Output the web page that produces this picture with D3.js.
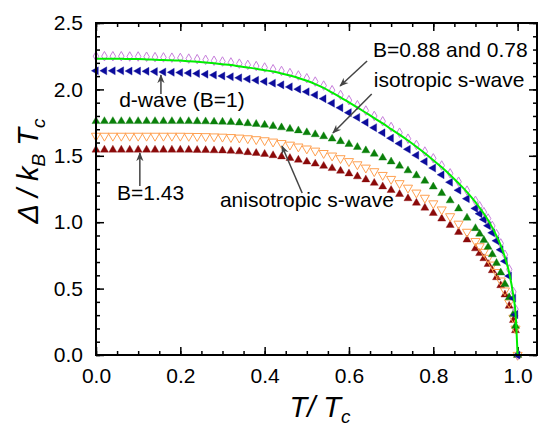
<!DOCTYPE html>
<html>
<head>
<meta charset="utf-8">
<script src="https://cdn.jsdelivr.net/npm/d3@7"></script>
<style>
  body { margin: 0; background: #fff; }
  svg { font-family: Arial, "Liberation Sans", sans-serif; }
</style>
</head>
<body>
<svg id="chart" width="539" height="428"></svg>
<script>
// reduced temperature T/Tc at which the curves were sampled
const tValues = [0, 0.02, 0.04, 0.06, 0.08, 0.10, 0.12, 0.14, 0.16, 0.18,
  0.20, 0.22, 0.24, 0.26, 0.28, 0.30, 0.32, 0.34, 0.36, 0.38,
  0.40, 0.42, 0.44, 0.46, 0.48, 0.50, 0.52, 0.54, 0.56, 0.58,
  0.60, 0.62, 0.64, 0.66, 0.68, 0.70, 0.72, 0.74, 0.76, 0.78,
  0.80, 0.82, 0.84, 0.86, 0.88, 0.90,
  0.91, 0.92, 0.93, 0.94, 0.95, 0.96, 0.97, 0.98, 0.99,
  0.995, 1.0];

// gap / kB Tc
const gapB078 = [2.250, 2.250, 2.250, 2.250, 2.248, 2.248, 2.246, 2.243, 2.241, 2.239,
  2.237, 2.232, 2.228, 2.223, 2.216, 2.210, 2.203, 2.194, 2.185, 2.176,
  2.165, 2.152, 2.139, 2.123, 2.105, 2.084, 2.059, 2.029, 1.994, 1.958,
  1.919, 1.881, 1.841, 1.800, 1.760, 1.717, 1.674, 1.629, 1.582, 1.532,
  1.481, 1.427, 1.368, 1.305, 1.238, 1.161,
  1.120, 1.076, 1.028, 0.972, 0.910, 0.840, 0.755, 0.645, 0.475,
  0.345, 0];

const gapB088 = [2.230, 2.230, 2.230, 2.230, 2.228, 2.228, 2.226, 2.223, 2.221, 2.219,
  2.217, 2.212, 2.208, 2.203, 2.197, 2.190, 2.183, 2.174, 2.165, 2.156,
  2.145, 2.134, 2.120, 2.104, 2.086, 2.065, 2.040, 2.011, 1.976, 1.940,
  1.902, 1.864, 1.824, 1.784, 1.744, 1.701, 1.659, 1.615, 1.568, 1.519,
  1.467, 1.414, 1.356, 1.293, 1.227, 1.151,
  1.108, 1.064, 1.015, 0.959, 0.896, 0.825, 0.736, 0.620, 0.446,
  0.317, 0];

const gapDwave = [2.140, 2.140, 2.140, 2.140, 2.138, 2.138, 2.136, 2.134, 2.131, 2.129,
  2.127, 2.123, 2.119, 2.114, 2.108, 2.101, 2.095, 2.087, 2.078, 2.069,
  2.059, 2.047, 2.034, 2.019, 2.002, 1.982, 1.958, 1.930, 1.896, 1.862,
  1.825, 1.789, 1.751, 1.712, 1.673, 1.633, 1.592, 1.549, 1.504, 1.457,
  1.408, 1.357, 1.301, 1.241, 1.177, 1.104,
  1.064, 1.021, 0.974, 0.920, 0.860, 0.792, 0.706, 0.595, 0.428,
  0.304, 0];

const gapIsoS = [1.760, 1.760, 1.760, 1.760, 1.760, 1.760, 1.760, 1.760, 1.760, 1.760,
  1.760, 1.760, 1.759, 1.758, 1.756, 1.755, 1.753, 1.749, 1.744, 1.739,
  1.732, 1.723, 1.713, 1.702, 1.690, 1.676, 1.661, 1.646, 1.628, 1.609,
  1.588, 1.565, 1.540, 1.514, 1.485, 1.456, 1.424, 1.389, 1.352, 1.311,
  1.267, 1.218, 1.163, 1.102, 1.033, 0.954,
  0.912, 0.864, 0.813, 0.757, 0.692, 0.620, 0.533, 0.433, 0.308,
  0.218, 0];

const gapAnisoS = [1.650, 1.650, 1.650, 1.650, 1.650, 1.650, 1.650, 1.650, 1.650, 1.650,
  1.650, 1.649, 1.648, 1.647, 1.645, 1.643, 1.640, 1.636, 1.631, 1.624,
  1.616, 1.606, 1.595, 1.583, 1.569, 1.554, 1.538, 1.520, 1.501, 1.481,
  1.459, 1.435, 1.410, 1.383, 1.355, 1.325, 1.293, 1.259, 1.222, 1.183,
  1.141, 1.095, 1.044, 0.988, 0.927, 0.857,
  0.818, 0.776, 0.731, 0.680, 0.624, 0.560, 0.485, 0.395, 0.280,
  0.198, 0];

const gapB143 = [1.545, 1.545, 1.545, 1.545, 1.545, 1.545, 1.545, 1.545, 1.545, 1.545,
  1.545, 1.544, 1.543, 1.542, 1.540, 1.539, 1.536, 1.532, 1.526, 1.520,
  1.513, 1.503, 1.494, 1.482, 1.469, 1.455, 1.440, 1.423, 1.406, 1.386,
  1.366, 1.344, 1.321, 1.295, 1.268, 1.241, 1.211, 1.179, 1.145, 1.108,
  1.068, 1.026, 0.978, 0.925, 0.868, 0.802,
  0.766, 0.727, 0.684, 0.637, 0.584, 0.524, 0.454, 0.370, 0.262,
  0.185, 0];

const xTickLabels = [0, 0.2, 0.4, 0.6, 0.8, 1.0];
const yTickLabels = [0, 0.5, 1.0, 1.5, 2.0, 2.5];

window.addEventListener("DOMContentLoaded", () => {
  const svg = d3.select("#chart");
  const width = +svg.attr("width");
  const height = +svg.attr("height");
  const margin = { top: 23, right: 2, bottom: 73, left: 96 };
  const innerWidth = width - margin.left - margin.right;
  const innerHeight = height - margin.top - margin.bottom;

  const g = svg.append("g")
    .attr("transform", `translate(${margin.left},${margin.top})`);

  const x = d3.scaleLinear().domain([0, 1.046]).range([0, innerWidth]);
  const y = d3.scaleLinear().domain([0, 2.5]).range([innerHeight, 0]);

  // minor ticks first, all four sides, pointing in
  const xMinor = d3.range(0, 1.046, 0.05);
  const yMinor = d3.range(0, 2.501, 0.1);
  const noLabel = () => "";

  g.append("g").attr("transform", `translate(0,${innerHeight})`)
    .call(d3.axisBottom(x).tickValues(xMinor).tickSize(-4).tickFormat(noLabel));
  g.append("g")
    .call(d3.axisTop(x).tickValues(xMinor).tickSize(-4).tickFormat(noLabel));
  g.append("g")
    .call(d3.axisLeft(y).tickValues(yMinor).tickSize(-4).tickFormat(noLabel));
  g.append("g").attr("transform", `translate(${innerWidth},0)`)
    .call(d3.axisRight(y).tickValues(yMinor).tickSize(-4).tickFormat(noLabel));

  // major ticks
  g.append("g").attr("class", "xaxis").attr("transform", `translate(0,${innerHeight})`)
    .call(d3.axisBottom(x).tickValues(xTickLabels).tickSize(-8).tickPadding(13).tickFormat(d3.format(".1f")));
  g.append("g")
    .call(d3.axisTop(x).tickValues(xTickLabels).tickSize(-8).tickFormat(noLabel));
  g.append("g").attr("class", "yaxis")
    .call(d3.axisLeft(y).tickValues(yTickLabels).tickSize(-8).tickPadding(13).tickFormat(d3.format(".1f")));
  g.append("g").attr("transform", `translate(${innerWidth},0)`)
    .call(d3.axisRight(y).tickValues(yTickLabels).tickSize(-8).tickFormat(noLabel));

  g.selectAll(".domain").remove();
  g.selectAll(".tick line").attr("stroke", "#000").attr("stroke-width", 1.5);
  g.selectAll(".xaxis text, .yaxis text")
    .attr("font-size", "21px")
    .attr("font-family", "Arial, 'Liberation Sans', sans-serif")
    .attr("fill", "#000");

  // data
  const pts = vals => tValues.map((t, i) => ({ t: t, v: vals[i] }));
  const plot = g.append("g");

  function markers(vals, type, size, rotate, fill, stroke) {
    plot.append("g").selectAll("path")
      .data(pts(vals))
      .enter()
      .append("path")
      .attr("d", d3.symbol().type(type).size(size))
      .attr("transform", d => `translate(${x(d.t)},${y(d.v)}) rotate(${rotate})`)
      .attr("fill", fill)
      .attr("stroke", stroke === "none" ? fill : stroke)
      .attr("stroke-opacity", stroke === "none" ? 0.35 : 1)
      .attr("stroke-width", 1);
  }

  markers(gapB143, d3.symbolTriangle, 28, 0, "#8b0a0a", "none");
  markers(gapAnisoS, d3.symbolTriangle, 36, 180, "none", "#ffa050");
  markers(gapIsoS, d3.symbolTriangle, 28, 0, "#0a800a", "none");
  markers(gapB078, d3.symbolDiamond, 26, 0, "none", "#c77fdb");
  markers(gapDwave, d3.symbolTriangle, 28, -90, "#0c0c9c", "none");

  plot.append("path")
    .datum(pts(gapB088))
    .attr("fill", "none")
    .attr("stroke", "#00ee00")
    .attr("stroke-width", 2)
    .attr("d", d3.line().x(d => x(d.t)).y(d => y(d.v)).curve(d3.curveMonotoneX));

  // frame
  g.append("rect")
    .attr("width", innerWidth)
    .attr("height", innerHeight)
    .attr("fill", "none")
    .attr("stroke", "#000")
    .attr("stroke-width", 2);

  // annotations (data coordinates)
  svg.append("defs").append("marker")
    .attr("id", "head")
    .attr("viewBox", "0 0 10 10")
    .attr("refX", 9).attr("refY", 5)
    .attr("markerWidth", 9).attr("markerHeight", 9)
    .attr("markerUnits", "userSpaceOnUse")
    .attr("orient", "auto")
    .append("path")
    .attr("d", "M0,1 L10,5 L0,9 L3,5 Z")
    .attr("fill", "#444");

  const notes = [
    { text: "B=0.88 and 0.78", tx: 0.657, ty: 2.244, from: [0.643, 2.214], to: [0.579, 2.026] },
    { text: "isotropic s-wave", tx: 0.659, ty: 2.018, from: [0.654, 1.965], to: [0.562, 1.672] },
    { text: "d-wave (B=1)", tx: 0.055, ty: 1.867, from: [0.154, 1.965], to: [0.154, 2.108] },
    { text: "B=1.43", tx: 0.050, ty: 1.167, from: [0.104, 1.273], to: [0.104, 1.521] },
    { text: "anisotropic s-wave", tx: 0.294, ty: 1.114, from: [0.489, 1.220], to: [0.441, 1.574] }
  ];

  notes.forEach(n => {
    g.append("line")
      .attr("x1", x(n.from[0])).attr("y1", y(n.from[1]))
      .attr("x2", x(n.to[0])).attr("y2", y(n.to[1]))
      .attr("stroke", "#444")
      .attr("stroke-width", 1.5)
      .attr("marker-end", "url(#head)");
    g.append("text")
      .attr("x", x(n.tx))
      .attr("y", y(n.ty))
      .attr("font-size", "21px")
      .attr("fill", "#000")
      .text(n.text);
  });

  // axis titles
  const yTitle = svg.append("text")
    .attr("transform", "translate(38,171) rotate(-90)")
    .attr("text-anchor", "middle")
    .attr("font-size", "29px")
    .attr("font-style", "italic");
  yTitle.append("tspan").text("\u0394 / k");
  yTitle.append("tspan").attr("font-size", "19px").attr("dy", 7).text("B");
  yTitle.append("tspan").attr("dy", -7).text(" T");
  yTitle.append("tspan").attr("font-size", "19px").attr("dy", 7).text("c");

  const xTitle = svg.append("text")
    .attr("x", 320)
    .attr("y", 417)
    .attr("text-anchor", "middle")
    .attr("font-size", "29px")
    .attr("font-style", "italic");
  xTitle.append("tspan").text("T/ T");
  xTitle.append("tspan").attr("font-size", "19px").attr("dy", 6).text("c");
});
</script>
</body>
</html>
